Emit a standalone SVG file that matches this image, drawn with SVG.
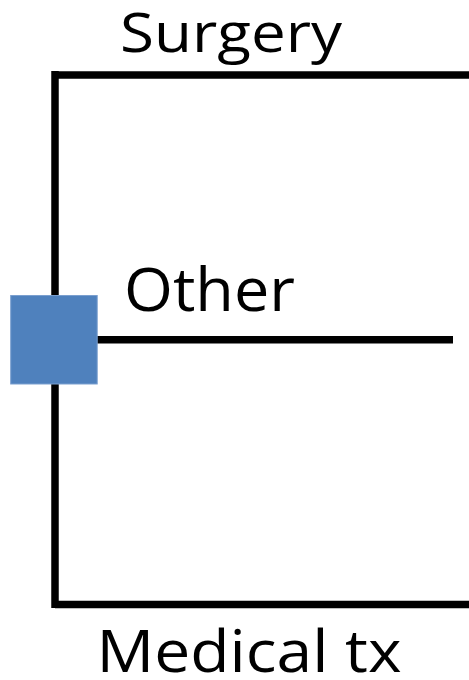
<svg xmlns="http://www.w3.org/2000/svg" width="469" height="680" viewBox="0 0 469 680">
<style>
.ln{stroke:#000;stroke-width:7.5;fill:none;stroke-linecap:butt}
.lbl{font-family:"Open Sans","Noto Sans",sans-serif;fill:#000}
</style>
<rect width="469" height="680" fill="#fff"/>
<g id="connectors">
<line class="ln" x1="55" y1="71" x2="55" y2="300"/>
<line class="ln" x1="55" y1="380" x2="55" y2="608"/>
<line class="ln" x1="55" y1="75" x2="469" y2="75"/>
<line class="ln" x1="93" y1="339.7" x2="453" y2="339.7"/>
<line class="ln" x1="55" y1="604.5" x2="469" y2="604.5"/>
</g>
<g id="decision">
<rect x="10.7" y="295.5" width="86.5" height="88.5" fill="#4F81BD" stroke="#7A9FCF" stroke-width="1"/>
</g>
<g id="surgery"><text class="lbl" x="120" y="52" font-size="55" textLength="222" lengthAdjust="spacingAndGlyphs">Surgery</text></g>
<g id="other"><text class="lbl" x="124" y="310.5" font-size="61" textLength="171" lengthAdjust="spacingAndGlyphs">Other</text></g>
<g id="medical"><text class="lbl" x="96.5" y="671.5" font-size="59" textLength="305" lengthAdjust="spacingAndGlyphs">Medical tx</text></g>
</svg>
